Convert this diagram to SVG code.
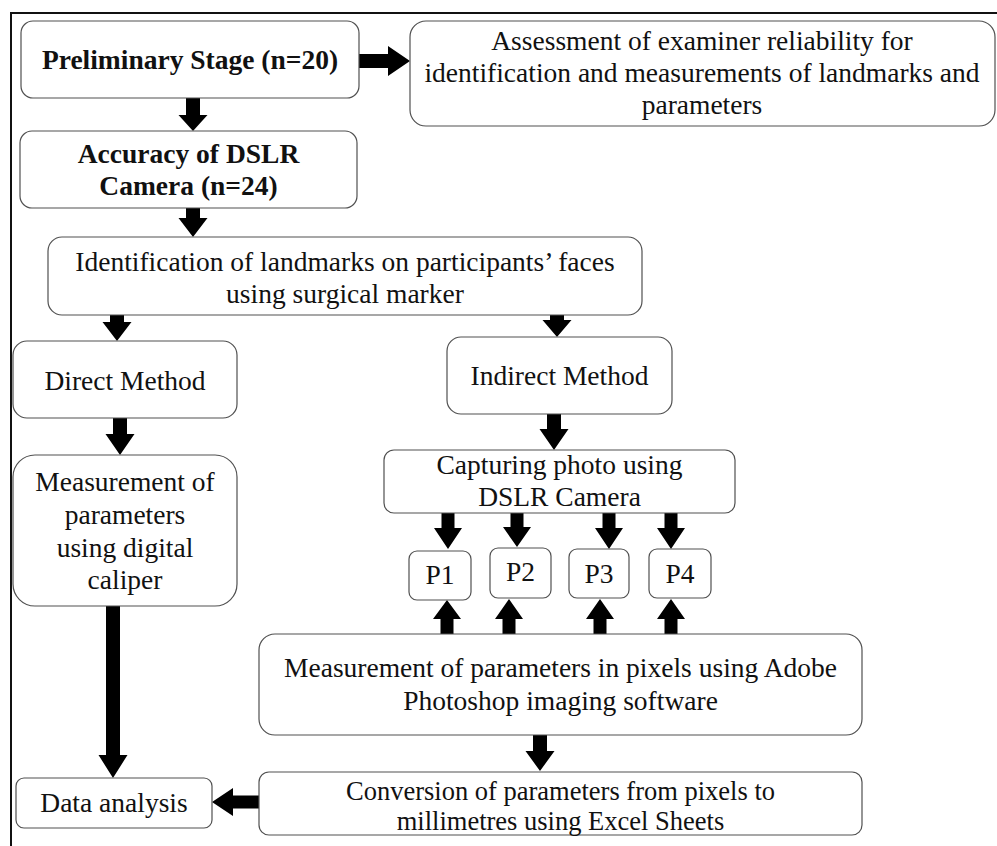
<svg xmlns="http://www.w3.org/2000/svg" width="997" height="846" viewBox="0 0 997 846">
<style>
.box{fill:#fff;stroke:#505050;stroke-width:1.2}
.t{font-family:"Liberation Serif","Times New Roman",serif;font-size:27.5px;fill:#111;text-anchor:middle}
.b{font-weight:bold}
.s{font-size:26.5px}
.arr{fill:#000}
.frame{stroke:#111;stroke-width:2;fill:none}
</style>
<rect width="997" height="846" fill="#fff"/>
<path class="frame" d="M11,846 V13 H997"/>
<g id="connectors">
<path class="arr" d="M186,98 H200 V115 H207.5 L193,131 L178.5,115 H186 Z"/>
<path class="arr" d="M186,208 H200 V218 H207.5 L193,237 L178.5,218 H186 Z"/>
<path class="arr" d="M359,54 H388 V46 L410,61 L388,76 V68 H359 Z"/>
<path class="arr" d="M110,315 H124 V322 H131.5 L117,341 L102.5,322 H110 Z"/>
<path class="arr" d="M550,315 H564 V320 H571.5 L557,337 L542.5,320 H550 Z"/>
<path class="arr" d="M113,418 H127 V434 H134.5 L120,455 L105.5,434 H113 Z"/>
<path class="arr" d="M547,414 H561 V429 H568.5 L554,450 L539.5,429 H547 Z"/>
<path class="arr" d="M441.5,513 H454.5 V528 H462 L448,549 L434,528 H441.5 Z"/>
<path class="arr" d="M510.5,513 H523.5 V527 H531 L517,547 L503,527 H510.5 Z"/>
<path class="arr" d="M602.5,513 H615.5 V528 H623 L609,549 L595,528 H602.5 Z"/>
<path class="arr" d="M664.5,513 H677.5 V528 H685 L671,549 L657,528 H664.5 Z"/>
<path class="arr" d="M440.5,634 H453.5 V619 H461 L447,600 L433,619 H440.5 Z"/>
<path class="arr" d="M502.5,634 H515.5 V619 H523 L509,599 L495,619 H502.5 Z"/>
<path class="arr" d="M593.5,634 H606.5 V619 H614 L600,599 L586,619 H593.5 Z"/>
<path class="arr" d="M664.5,634 H677.5 V619 H685 L671,599 L657,619 H664.5 Z"/>
<path class="arr" d="M106,606 H120 V755 H127.5 L113,778 L98.5,755 H106 Z"/>
<path class="arr" d="M533,735 H547 V751 H554.5 L540,771 L525.5,751 H533 Z"/>
<path class="arr" d="M259,795.5 V808.5 H233 V816 L212,802 L233,788 V795.5 Z"/>
</g>
<g id="preliminary">
<rect class="box" x="21" y="21" width="338" height="77" rx="12"/>
<text class="t b" x="190" y="69">Preliminary Stage (n=20)</text>
</g>
<g id="assessment">
<rect class="box" x="410" y="21" width="585" height="105" rx="16"/>
<text class="t" x="702" y="50">Assessment of examiner reliability for</text>
<text class="t" x="702" y="82">identification and measurements of landmarks and</text>
<text class="t" x="702" y="114">parameters</text>
</g>
<g id="accuracy">
<rect class="box" x="20" y="131" width="337" height="77" rx="12"/>
<text class="t b" x="188.5" y="163">Accuracy of DSLR</text>
<text class="t b" x="188.5" y="195">Camera (n=24)</text>
</g>
<g id="identification">
<rect class="box" x="48" y="237" width="594" height="78" rx="14"/>
<text class="t" x="345" y="271">Identification of landmarks on participants’ faces</text>
<text class="t" x="345" y="303">using surgical marker</text>
</g>
<g id="direct">
<rect class="box" x="13" y="341" width="224" height="77" rx="14"/>
<text class="t" x="125" y="390">Direct Method</text>
</g>
<g id="indirect">
<rect class="box" x="447" y="337" width="225" height="77" rx="14"/>
<text class="t" x="559.5" y="385">Indirect Method</text>
</g>
<g id="caliper">
<rect class="box" x="13" y="455" width="224" height="151" rx="22"/>
<text class="t" x="125" y="491">Measurement of</text>
<text class="t" x="125" y="524">parameters</text>
<text class="t" x="125" y="557">using digital</text>
<text class="t" x="125" y="589">caliper</text>
</g>
<g id="capturing">
<rect class="box" x="384" y="450" width="351" height="63" rx="10"/>
<text class="t" x="559.5" y="474">Capturing photo using</text>
<text class="t" x="559.5" y="506">DSLR Camera</text>
</g>
<g id="p1">
<rect class="box" x="409" y="551" width="62" height="49" rx="8"/>
<text class="t" x="440" y="584">P1</text>
</g>
<g id="p2">
<rect class="box" x="490" y="548" width="61" height="50" rx="8"/>
<text class="t" x="520.5" y="581">P2</text>
</g>
<g id="p3">
<rect class="box" x="569" y="549" width="60" height="49" rx="8"/>
<text class="t" x="599" y="583">P3</text>
</g>
<g id="p4">
<rect class="box" x="649" y="549" width="62" height="49" rx="8"/>
<text class="t" x="680" y="583">P4</text>
</g>
<g id="photoshop">
<rect class="box" x="259" y="634" width="603" height="101" rx="16"/>
<text class="t" x="560.5" y="677">Measurement of parameters in pixels using Adobe</text>
<text class="t" x="560.5" y="710">Photoshop imaging software</text>
</g>
<g id="conversion">
<rect class="box" x="259" y="772" width="603" height="63" rx="10"/>
<text class="t s" x="560.5" y="800">Conversion of parameters from pixels to</text>
<text class="t s" x="560.5" y="830">millimetres using Excel Sheets</text>
</g>
<g id="data">
<rect class="box" x="16" y="778" width="196" height="50" rx="8"/>
<text class="t" x="114" y="812">Data analysis</text>
</g>
</svg>
